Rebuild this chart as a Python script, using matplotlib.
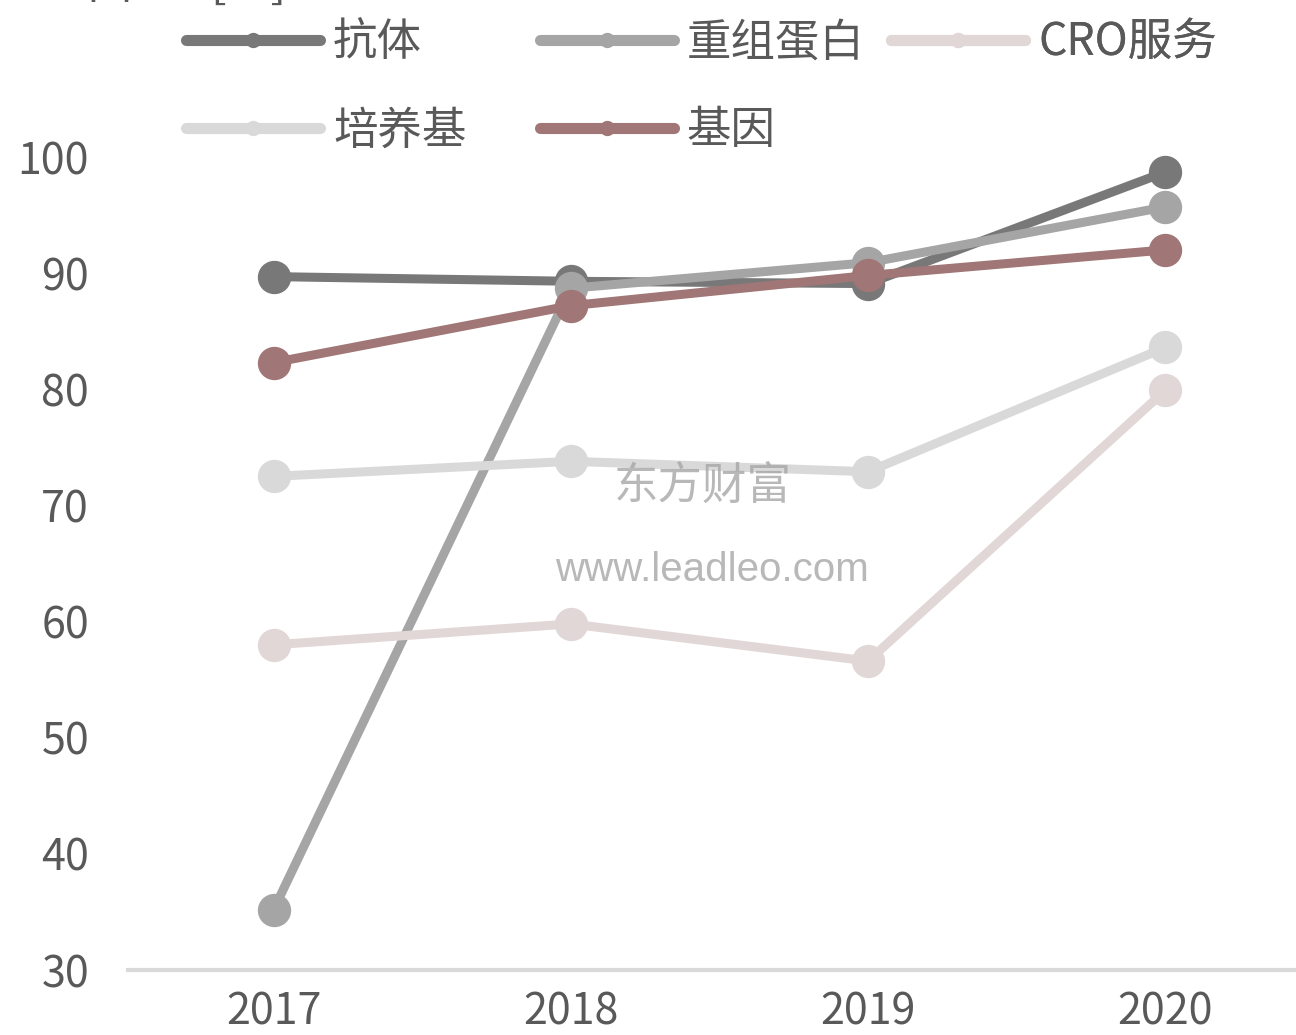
import matplotlib
matplotlib.use('Agg')
import matplotlib.pyplot as plt
from matplotlib.lines import Line2D

# Data
years = ['2017', '2018', '2019', '2020']
antibody = [89.7, 89.3, 89.1, 98.7]      # 抗体
protein = [35.2, 88.7, 90.9, 95.7]       # 重组蛋白
cro = [58.0, 59.8, 56.6, 79.9]           # CRO服务
medium = [72.5, 73.8, 72.9, 83.6]        # 培养基
gene = [82.3, 87.2, 89.8, 92.0]          # 基因

series_names = ['抗体', '重组蛋白', 'CRO服务', '培养基', '基因']
series_values = [antibody, protein, cro, medium, gene]
series_colors = ['#787878', '#a5a5a5', '#e2d7d7', '#d9d9d9', '#a07676']
y_ticks = [30, 40, 50, 60, 70, 80, 90, 100]

plt.rcParams['font.family'] = ['Noto Sans CJK SC', 'DejaVu Sans']

fig = plt.figure(figsize=(12.96, 10.35), dpi=100)
ax = fig.add_axes([128 / 1296, 1 - 970 / 1035, 1 - 128 / 1296, (970 - 157) / 1035])

x = list(range(len(years)))
handles = {}
for name, vals, col in zip(series_names, series_values, series_colors):
    ax.plot(x, vals, color=col, linewidth=6.5, marker='o', markersize=23,
            solid_capstyle='round', clip_on=False, zorder=3)
    handles[name] = Line2D([], [], color=col, linewidth=8, marker='o', markersize=10,
                           solid_capstyle='round')

ax.set_xlim(-0.49, 3.44)
ax.set_ylim(30, 100)
ax.set_xticks(x)
ax.set_xticklabels(years)
ax.set_yticks(y_ticks)
ax.tick_params(axis='both', length=0, labelsize=31, colors='#595959')
ax.tick_params(axis='x', pad=15)
ax.tick_params(axis='y', pad=28)
for lab in ax.get_yticklabels():
    lab.set_horizontalalignment('right')
for s in ['top', 'right', 'left']:
    ax.spines[s].set_visible(False)
ax.spines['bottom'].set_color('#d9d9d9')
ax.spines['bottom'].set_linewidth(3)

# legend drawn as three columns to match the placement
legend_kw = dict(frameon=False, fontsize=32, handlelength=3.0, handletextpad=0.3,
                 labelspacing=0.95, borderpad=0, labelcolor='#595959',
                 loc='upper left', bbox_transform=fig.transFigure)
cols = [(['抗体', '培养基'], 164), (['重组蛋白', '基因'], 518), (['CRO服务'], 869)]
for names, px in cols:
    leg = ax.legend([handles[n] for n in names], names,
                    bbox_to_anchor=(px / 1296, 1 + 3 / 1035), **legend_kw)
    ax.add_artist(leg)

# unit label, cut off at the top in the reference
fig.text(70 / 1296, 1 - 9 / 1035, '单位：[%]', fontsize=34, color='#595959', va='bottom')

# watermarks
fig.text(703 / 1296, 1 - 487 / 1035, '东方财富', fontsize=32, color='#a6a6a6',
         ha='center', va='center', alpha=0.8, zorder=5)
fig.text(712 / 1296, 1 - 570 / 1035, 'www.leadleo.com', fontsize=29, color='#a6a6a6',
         ha='center', va='center', alpha=0.8, family='Liberation Sans', zorder=5)

fig.savefig('out.png', dpi=100)
